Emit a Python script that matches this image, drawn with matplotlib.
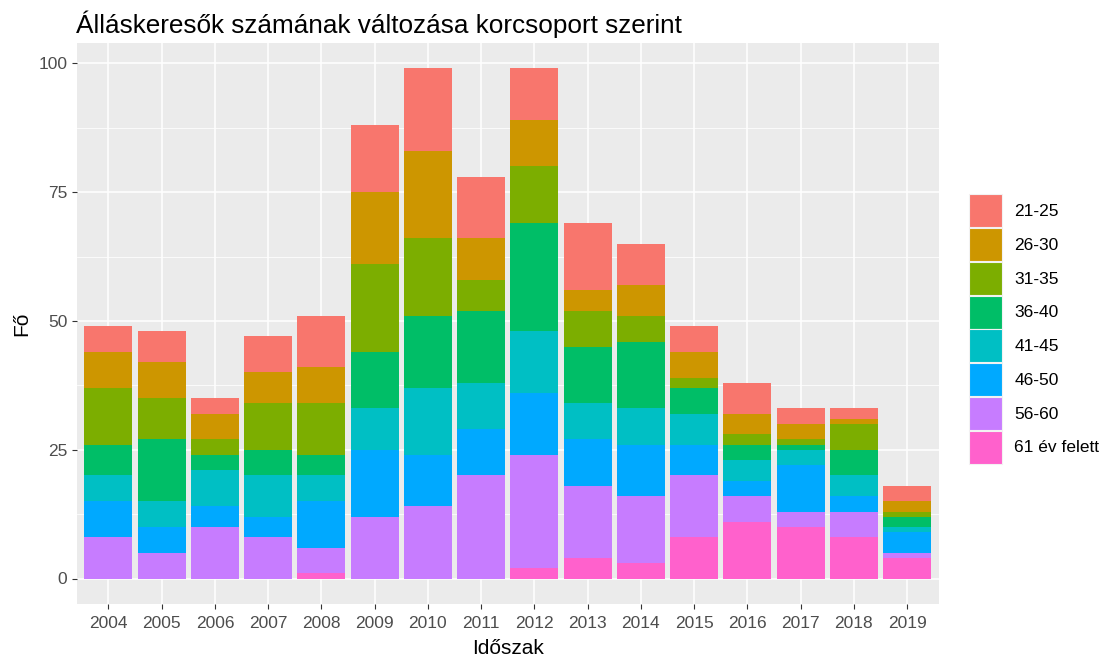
import numpy as np
import matplotlib
matplotlib.use("Agg")
import matplotlib.pyplot as plt
from matplotlib.patches import Patch

plt.rcParams["font.family"] = ["Liberation Sans", "DejaVu Sans"]

years = [str(y) for y in range(2004, 2020)]
groups = ["21-25", "26-30", "31-35", "36-40", "41-45", "46-50", "56-60", "61 év felett"]
colors = ["#F8766D", "#CD9600", "#7CAE00", "#00BE67", "#00BFC4", "#00A9FF", "#C77CFF", "#FF61CC"]

# counts per age group, 2004..2019
g21_25 = [5, 6, 3, 7, 10, 13, 16, 12, 10, 13, 8, 5, 6, 3, 2, 3]
g26_30 = [7, 7, 5, 6, 7, 14, 17, 8, 9, 4, 6, 5, 4, 3, 1, 2]
g31_35 = [11, 8, 3, 9, 10, 17, 15, 6, 11, 7, 5, 2, 2, 1, 5, 1]
g36_40 = [6, 12, 3, 5, 4, 11, 14, 14, 21, 11, 13, 5, 3, 1, 5, 2]
g41_45 = [5, 5, 7, 8, 5, 8, 13, 9, 12, 7, 7, 6, 4, 3, 4, 1]
g46_50 = [7, 5, 4, 4, 9, 13, 10, 9, 12, 9, 10, 6, 3, 9, 3, 4]
g56_60 = [8, 5, 10, 8, 5, 12, 14, 20, 22, 14, 13, 12, 5, 3, 5, 1]
g61 = [0, 0, 0, 0, 1, 0, 0, 0, 2, 4, 3, 8, 11, 10, 8, 4]

series = [g21_25, g26_30, g31_35, g36_40, g41_45, g46_50, g56_60, g61]

fig = plt.figure(figsize=(11.04, 6.58), dpi=100)
ax = fig.add_axes([76.5 / 1104, 1 - 604 / 658, (939 - 76.5) / 1104, (604 - 43) / 658])
ax.set_facecolor("#EBEBEB")

x = np.arange(len(years))
bottom = np.zeros(len(years))
# stack from the bottom group (61+) upward
for vals, col in zip(series[::-1], colors[::-1]):
    v = np.array(vals, dtype=float)
    ax.bar(x, v, bottom=bottom, width=0.9, color=col, edgecolor="none", zorder=3)
    bottom += v

total_max = bottom.max()
ax.set_ylim(-0.05 * total_max, total_max * 1.05)
ax.set_xlim(-0.6, len(years) - 0.4)

ax.set_yticks([0, 25, 50, 75, 100])
ax.set_yticks([12.5, 37.5, 62.5, 87.5], minor=True)
ax.set_xticks(x)
ax.set_xticklabels(years)
ax.grid(which="major", color="white", linewidth=1.1, zorder=0)
ax.grid(which="minor", axis="y", color="white", linewidth=0.55, zorder=0)
ax.set_axisbelow(True)
for s in ax.spines.values():
    s.set_visible(False)
ax.tick_params(which="major", length=3.5, color="#333333", labelcolor="#4D4D4D", labelsize=12.5, pad=3)
ax.tick_params(axis="x", which="major", pad=5)
ax.tick_params(which="minor", length=0)

ax.set_xlabel("Időszak", fontsize=15, color="black", labelpad=6)
ax.set_ylabel("Fő", fontsize=15, color="black", labelpad=5)
ax.set_title("Álláskeresők számának változása korcsoport szerint", fontsize=18.8, loc="left", pad=7)

handles = [Patch(facecolor=c, edgecolor="#F2F2F2", linewidth=0.8) for c in colors]
fig.legend(handles, groups, loc="center left", bbox_to_anchor=(969 / 1104, 1 - 329 / 658),
           frameon=False, fontsize=12.5, handlelength=1.9, handleheight=2.55,
           labelspacing=0.04, handletextpad=0.7, borderaxespad=0, borderpad=0)

fig.savefig("out.png", dpi=100)
plt.close(fig)
